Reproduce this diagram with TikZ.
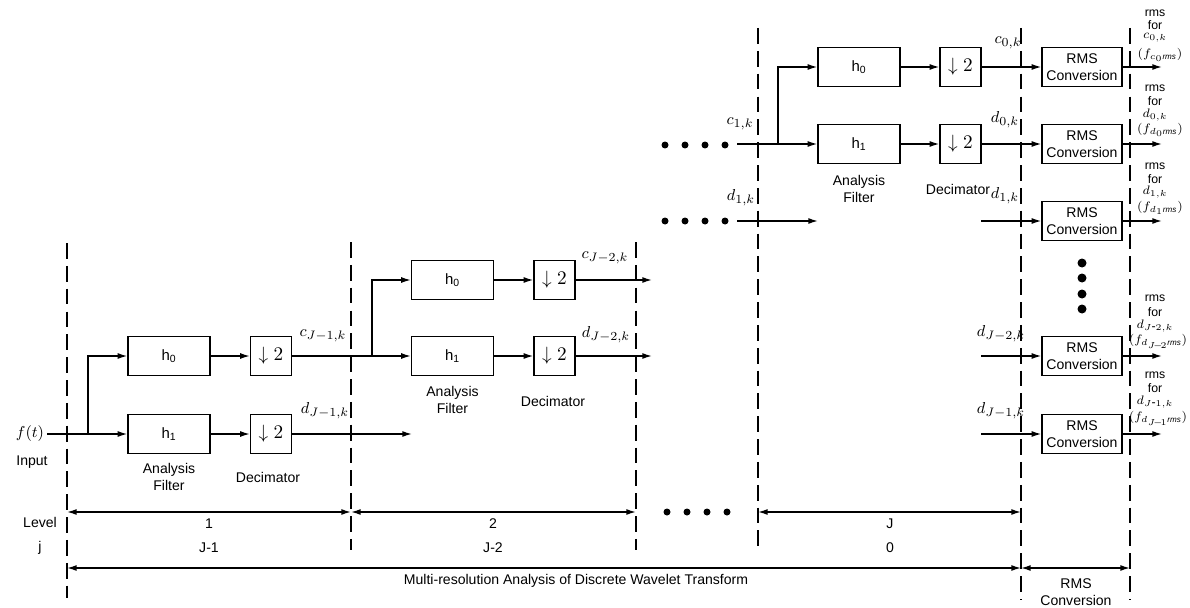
\documentclass[tikz,border=0pt]{standalone}
\usepackage{fontspec}
\setmainfont{Liberation Sans}
\usetikzlibrary{arrows.meta}
\newcommand\rmsx{\hbox{\fontsize{4.6}{5}\selectfont\itshape rms}}
\begin{document}
\begin{tikzpicture}[x=0.02cm,y=-0.02cm,
  lw/.style={line width=0.8pt},
  arr/.style={lw,-{Latex[length=5.5pt,width=3.4pt]}},
  darr/.style={lw,{Latex[length=5.5pt,width=3.4pt]}-{Latex[length=5.5pt,width=3.4pt]}},
  sep/.style={line width=0.9pt,dash pattern=on 9pt off 4pt},
  fbox/.style={draw,lw,minimum width=1.64cm,minimum height=0.78cm,inner sep=0pt,font=\fontsize{8.5}{10}\selectfont},
  dbox/.style={draw,lw,minimum width=0.82cm,minimum height=0.78cm,inner sep=0pt,font=\fontsize{11}{13}\selectfont},
  rbox/.style={draw,lw,minimum width=1.6cm,minimum height=0.78cm,inner sep=0pt,align=center,font=\fontsize{8}{9.5}\selectfont},
  txt/.style={font=\fontsize{8}{9.5}\selectfont,align=center,inner sep=0pt},
  lab/.style={font=\fontsize{9.5}{11}\selectfont,inner sep=0pt},
  slab/.style={font=\fontsize{7}{8}\selectfont,inner sep=0pt},
  dot/.style={circle,fill,inner sep=0pt,minimum size=0.14cm},
]
\useasboundingbox (0,0) rectangle (1190,608);

% separators
\draw[sep] (67,243) -- (67,598);
\draw[sep] (351,242) -- (351,550);
\draw[sep] (636,242) -- (636,550);
\draw[sep] (758,28) -- (758,550);
\draw[sep] (1021,28) -- (1021,600);
\draw[sep] (1130,28) -- (1130,600);

% ---------- stage 1
\node[lab] (ft) at (30,434) {$f(t)$};
\node[txt] (inp) at (32,462) {Input};
\node[fbox] (h0a) at (169,356) {h\textsubscript{0}};
\node[fbox] (h1a) at (169,434) {h\textsubscript{1}};
\node[dbox] (d0a) at (271,356) {$\downarrow 2$};
\node[dbox] (d1a) at (271,434) {$\downarrow 2$};
\coordinate (b1) at (88,434);
\draw[arr] (ft.east) ++(3,0) -- (h1a.west);
\draw[arr] (b1) |- (h0a.west);
\draw[arr] (h0a) -- (d0a);
\draw[arr] (h1a) -- (d1a);
\node[txt] (af1) at (169,477) {Analysis\\Filter};
\node[txt] (de1) at (268,477) {Decimator};
\node[lab] (c1l) at (323,336) {$c_{J-1,k}$};
\node[lab] (d1l) at (325,411) {$d_{J-1,k}$};

% ---------- stage 2
\node[fbox] (h0b) at (452.5,280) {h\textsubscript{0}};
\node[fbox] (h1b) at (452.5,356) {h\textsubscript{1}};
\node[dbox] (d0b) at (554.5,280) {$\downarrow 2$};
\node[dbox] (d1b) at (554.5,356) {$\downarrow 2$};
\coordinate (b2) at (372,356);
\coordinate (e1) at (412,434);
\draw[arr] (d0a) -- (h1b);
\draw[arr] (b2) |- (h0b.west);
\draw[arr] (d1a) -- (e1);
\draw[arr] (h0b) -- (d0b);
\draw[arr] (h1b) -- (d1b);
\coordinate (e2) at (652,280);
\coordinate (e3) at (652,356);
\draw[arr] (d0b) -- (e2);
\draw[arr] (d1b) -- (e3);
\node[txt] (af2) at (452.5,400) {Analysis\\Filter};
\node[txt] (de2) at (553,401) {Decimator};
\node[lab] (c2l) at (605,258) {$c_{J-2,k}$};
\node[lab] (d2l) at (606,335) {$d_{J-2,k}$};

% dots
\foreach \x in {665,685,705,725} {
  \node[dot] at (\x,145) {};
  \node[dot] at (\x,221) {};
  \node[dot] at (\x+2,512) {};
}

% ---------- stage 3
\node[fbox] (h0c) at (859,67) {h\textsubscript{0}};
\node[fbox] (h1c) at (859,144) {h\textsubscript{1}};
\node[dbox] (d0c) at (960.5,67) {$\downarrow 2$};
\node[dbox] (d1c) at (960.5,144) {$\downarrow 2$};
\coordinate (s3) at (737,144);
\coordinate (b3) at (778,144);
\coordinate (s4) at (737,221);
\coordinate (e4) at (818,221);
\draw[arr] (s3) -- (h1c);
\draw[arr] (b3) |- (h0c.west);
\draw[arr] (s4) -- (e4);
\draw[arr] (h0c) -- (d0c);
\draw[arr] (h1c) -- (d1c);
\node[txt] (af3) at (859,189) {Analysis\\Filter};
\node[txt] (de3) at (958,189) {Decimator};
\node[lab] (c1k) at (740,124) {$c_{1,k}$};
\node[lab] (d1k) at (741,198) {$d_{1,k}$};
\node[lab] (c0r) at (1008,43) {$c_{0,k}$};
\node[lab] (d0r) at (1005,120) {$d_{0,k}$};
\node[lab] (d1r) at (1005,196) {$d_{1,k}$};
\node[lab] (dj2r) at (1001,334) {$d_{J-2,k}$};
\node[lab] (dj1r) at (1001,411) {$d_{J-1,k}$};

% ---------- RMS conversion
\node[rbox] (r1) at (1082,67) {RMS\\Conversion};
\node[rbox] (r2) at (1082,144) {RMS\\Conversion};
\node[rbox] (r3) at (1082,221) {RMS\\Conversion};
\node[rbox] (r4) at (1082,356) {RMS\\Conversion};
\node[rbox] (r5) at (1082,434) {RMS\\Conversion};
\draw[arr] (d0c) -- (r1);
\draw[arr] (d1c) -- (r2);
\coordinate (s5) at (981,221);
\coordinate (s6) at (981,356);
\coordinate (s7) at (981,434);
\draw[arr] (s5) -- (r3);
\draw[arr] (s6) -- (r4);
\draw[arr] (s7) -- (r5);
\foreach \i/\y in {1/67,2/144,3/221,4/356,5/434} {
  \coordinate (o\i) at (1162,\y);
  \draw[arr] (r\i) -- (o\i);
}
\foreach \y in {263,278,294,309} { \node[dot,minimum size=0.18cm] at (1082,\y) {}; }

% right-hand labels
\node[slab] (t1a) at (1155,13) {rms};
\node[slab] (t1b) at (1155,25) {for};
\node[slab] (t1c) at (1155,38) {$c_{0,k}$};
\node[slab] (t1d) at (1160,55) {$(f_{c_0\rmsx})$};
\node[slab] (t2a) at (1155,88) {rms};
\node[slab] (t2b) at (1155,101) {for};
\node[slab] (t2c) at (1155,115) {$d_{0,k}$};
\node[slab] (t2d) at (1160,130) {$(f_{d_0\rmsx})$};
\node[slab] (t3a) at (1155,166) {rms};
\node[slab] (t3b) at (1155,179) {for};
\node[slab] (t3c) at (1155,192) {$d_{1,k}$};
\node[slab] (t3d) at (1160,208) {$(f_{d_1\rmsx})$};
\node[slab] (t4a) at (1155,298) {rms};
\node[slab] (t4b) at (1155,312) {for};
\node[slab] (t4c) at (1155,326) {$d_{J\mbox{-}2,k}$};
\node[slab] (t4d) at (1158,342) {$(f_{d_{J\!-\!2}\rmsx})$};
\node[slab] (t5a) at (1155,375) {rms};
\node[slab] (t5b) at (1155,388) {for};
\node[slab] (t5c) at (1155,402) {$d_{J\mbox{-}1,k}$};
\node[slab] (t5d) at (1158,419) {$(f_{d_{J\!-\!1}\rmsx})$};

% ---------- bottom scales
\draw[darr] (67,512) -- (351,512);
\draw[darr] (351,512) -- (636,512);
\draw[darr] (758,512) -- (1021,512);
\draw[darr] (67,568) -- (1021,568);
\draw[darr] (1021,568) -- (1130,568);
\node[txt] (lv) at (40,536) {Level\\[4pt]j};
\node[txt] (l1) at (209,536) {1\\[4pt]J-1};
\node[txt] (l2) at (493,536) {2\\[4pt]J-2};
\node[txt] (l3) at (890,536) {J\\[4pt]0};
\node[txt] (mra) at (576,581) {Multi-resolution Analysis of Discrete Wavelet Transform};
\node[txt] (rc) at (1076,592) {RMS\\Conversion};
\end{tikzpicture}
\end{document}
